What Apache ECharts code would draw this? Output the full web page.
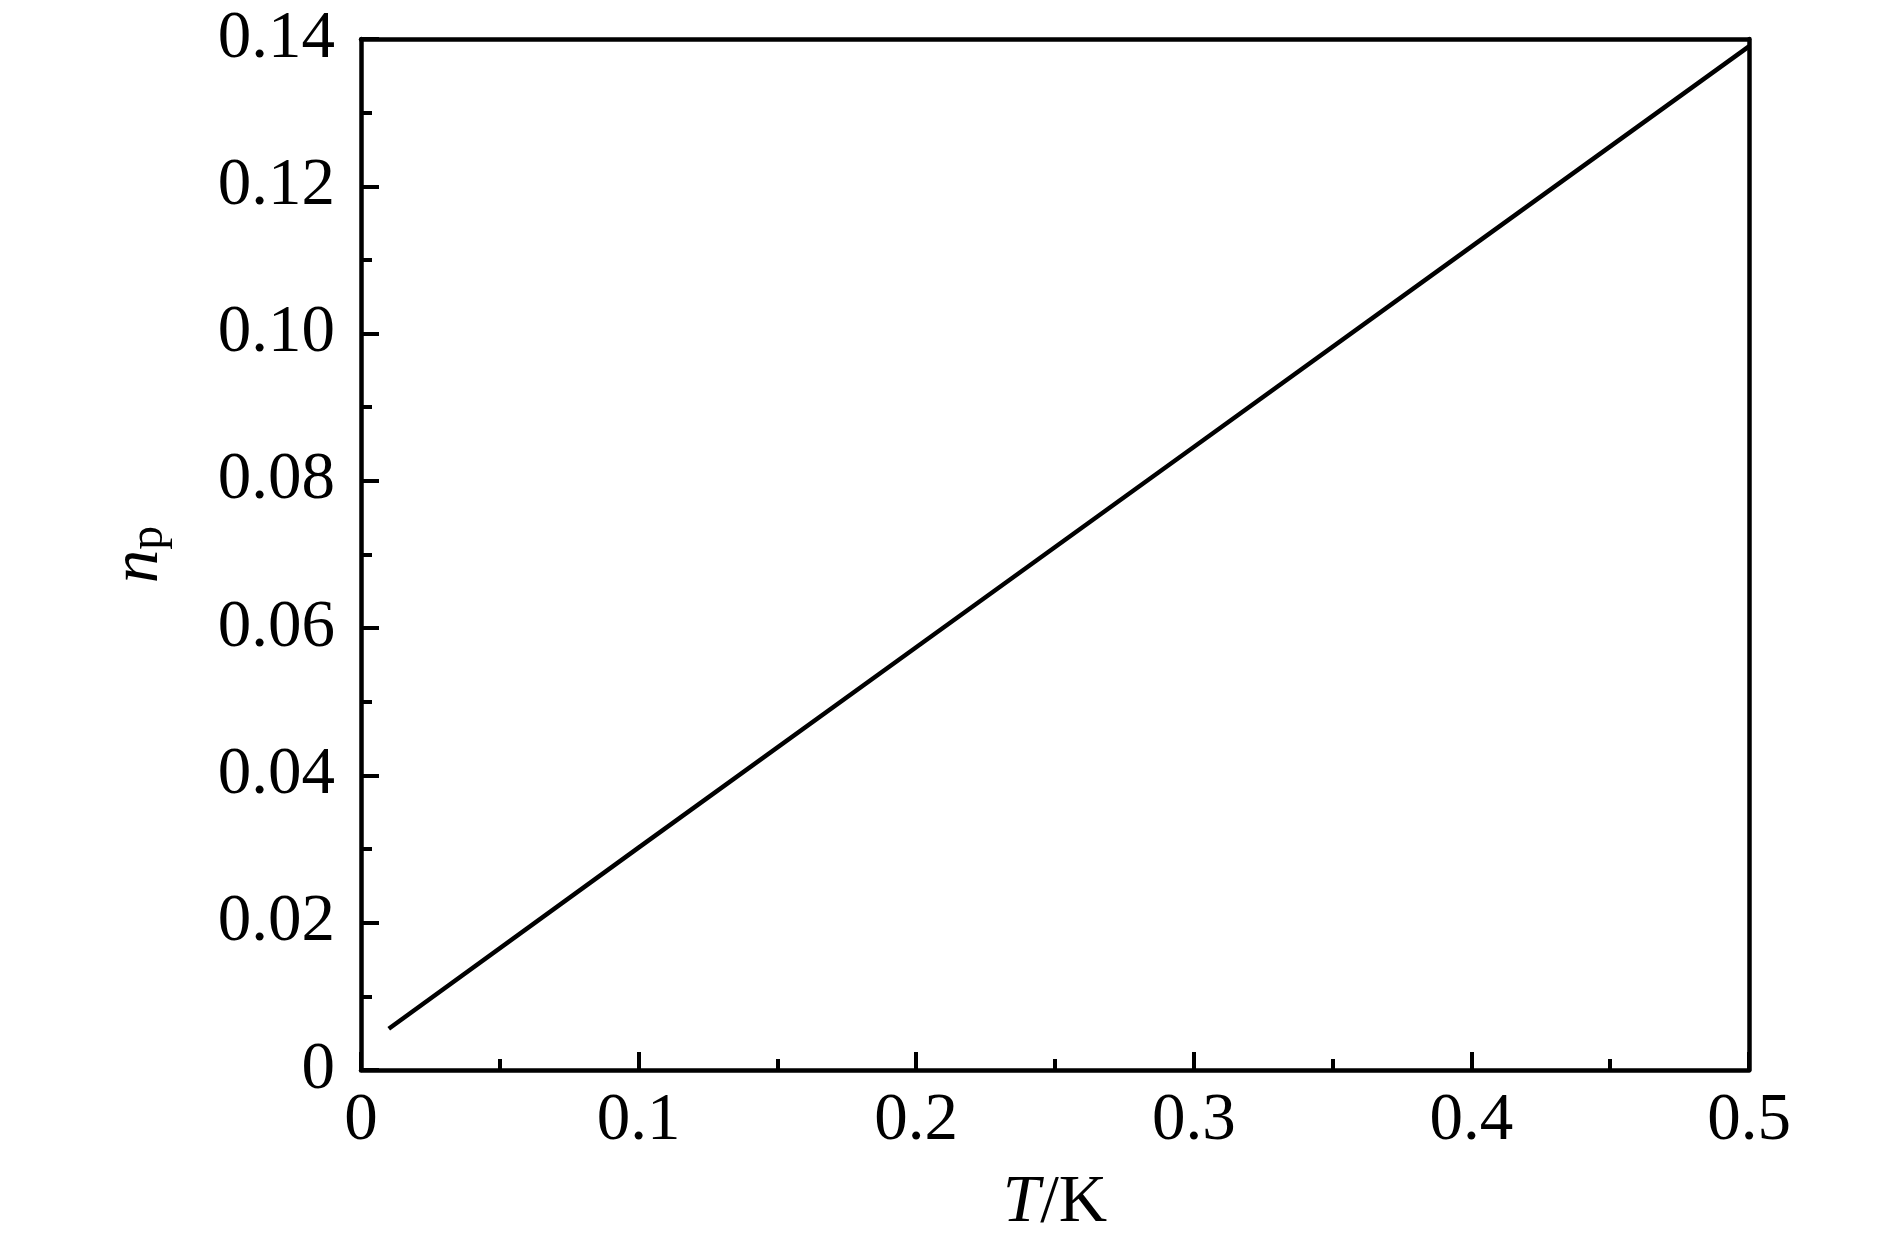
<!DOCTYPE html>
<html>
<head>
<meta charset="utf-8">
<script src="https://cdn.jsdelivr.net/npm/echarts@6/dist/echarts.min.js"></script>
<style>
html,body{margin:0;padding:0;background:#fff;}
#c{width:1890px;height:1252px;}
</style>
</head>
<body>
<div id="c"></div>
<script>
const temperatures = [0.01, 0.1, 0.2, 0.3, 0.4, 0.5];
const npValues = [0.0056, 0.0302, 0.0574, 0.0846, 0.1118, 0.139];

const FONT = 'Liberation Serif';
const FS = 67;
const chart = echarts.init(document.getElementById('c'), null, {renderer: 'canvas'});
const axisCommon = {
  axisLine: {show: true, onZero: false, lineStyle: {color: '#000', width: 4.5}},
  splitLine: {show: false},
  axisLabel: {color: '#000', fontFamily: FONT, fontSize: FS},
  nameTextStyle: {color: '#000', fontFamily: FONT, fontSize: FS}
};
chart.setOption({
  animation: false,
  backgroundColor: '#fff',
  grid: {left: 361, right: 141, top: 39, bottom: 182, show: false},
  xAxis: [{
    type: 'value', min: 0, max: 0.5, interval: 0.1, position: 'bottom',
    ...axisCommon,
    axisTick: {show: true, inside: true, length: 18, lineStyle: {color: '#000', width: 4}},
    minorTick: {show: true, splitNumber: 2, length: 11, lineStyle: {color: '#000', width: 4}},
    axisLabel: {...axisCommon.axisLabel, margin: 18,
      formatter: v => v === 0 ? '0' : v.toFixed(1)},
    name: '{i|T}{u|/K}', nameLocation: 'middle', nameGap: 100,
    nameTextStyle: {rich: {
      i: {fontFamily: FONT, fontSize: FS, fontStyle: 'italic', color: '#000'},
      u: {fontFamily: FONT, fontSize: FS, color: '#000'}
    }}
  }, {
    type: 'value', min: 0, max: 0.5, position: 'top',
    axisLine: {show: true, onZero: false, lineStyle: {color: '#000', width: 4.5}},
    axisTick: {show: false}, axisLabel: {show: false}, splitLine: {show: false}
  }],
  yAxis: [{
    type: 'value', min: 0, max: 0.14, interval: 0.02, position: 'left',
    ...axisCommon,
    axisTick: {show: true, inside: true, length: 18, lineStyle: {color: '#000', width: 4}},
    minorTick: {show: true, splitNumber: 2, length: 11, lineStyle: {color: '#000', width: 4}},
    axisLabel: {...axisCommon.axisLabel, margin: 26,
      formatter: v => v === 0 ? '0' : v.toFixed(2)},
    name: '{i|n}{s|p}', nameLocation: 'middle', nameGap: 188, nameRotate: 90,
    nameTextStyle: {rich: {
      i: {fontFamily: FONT, fontSize: FS, fontStyle: 'italic', color: '#000', verticalAlign: 'bottom'},
      s: {fontFamily: FONT, fontSize: 48, color: '#000', padding: [25, 0, 0, 0], verticalAlign: 'bottom'}
    }}
  }, {
    type: 'value', min: 0, max: 0.14, position: 'right',
    axisLine: {show: true, onZero: false, lineStyle: {color: '#000', width: 4.5}},
    axisTick: {show: false}, axisLabel: {show: false}, splitLine: {show: false}
  }],
  series: [{
    type: 'line',
    data: temperatures.map((t, i) => [t, npValues[i]]),
    showSymbol: false,
    lineStyle: {color: '#000', width: 4.5},
    xAxisIndex: 0, yAxisIndex: 0
  }]
});
</script>
</body>
</html>
